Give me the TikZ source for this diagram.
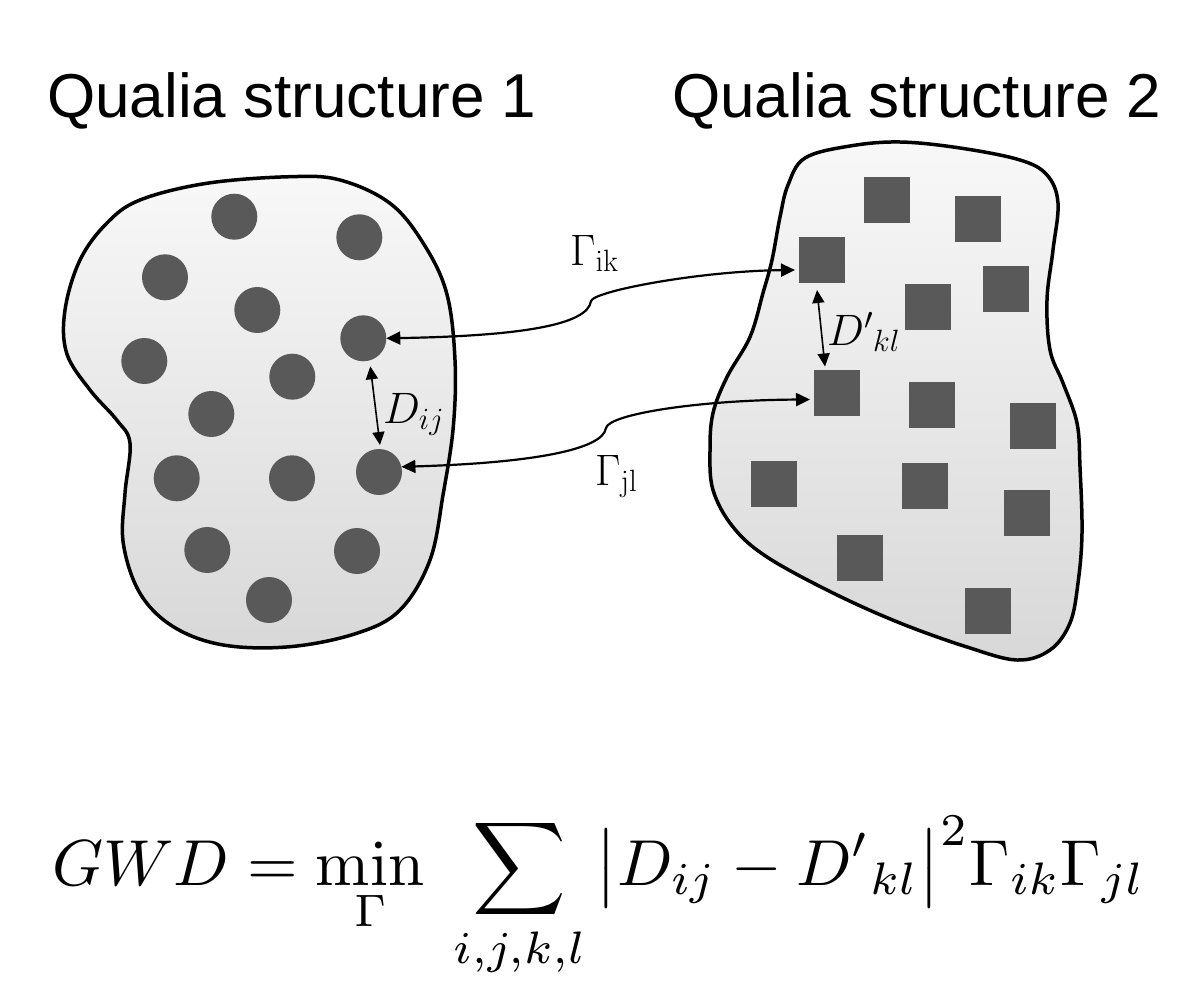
\RequirePackage{fix-cm}
\documentclass[tikz,border=0pt]{standalone}
\usepackage[no-math]{fontspec}
\usepackage{graphicx}
\newfontfamily\titlefont{Liberation Sans}
\usetikzlibrary{arrows.meta,calc}
\definecolor{dotgray}{HTML}{595959}
\definecolor{blobtop}{HTML}{F8F8F8}
\definecolor{blobbot}{HTML}{D8D8D8}
\begin{document}
\begin{tikzpicture}[x=1pt,y=-1pt,
  blob/.style={draw=black, line width=3.5pt, top color=blobtop, bottom color=blobbot},
  dot/.style={circle, fill=dotgray, minimum size=46pt, inner sep=0pt, outer sep=0pt},
  sq/.style={rectangle, fill=dotgray, minimum size=46pt, inner sep=0pt, outer sep=0pt},
  link/.style={line width=2.2pt, {Triangle[length=14pt,width=13pt]}-{Triangle[length=14pt,width=13pt]}},
  dist/.style={line width=1.6pt, {Triangle[length=13pt,width=12pt]}-{Triangle[length=13pt,width=12pt]}},
  title/.style={font=\titlefont\fontsize{62}{70}\selectfont, anchor=base west, inner sep=0pt},
  lbl/.style={font=\fontsize{44}{50}\selectfont, anchor=base west, inner sep=0pt},
]
\useasboundingbox (0,0) rectangle (1180,982);

% titles
\node[title] (t1) at (47,117) {Qualia structure 1};
\node[title] (t2) at (672,117) {Qualia structure 2};

% blobs
\path[blob] plot[smooth cycle, tension=0.6] coordinates {
 (140,200) (206.7,183.3) (290,176.7) (340,180) (390,203.3) (423.3,243.3)
 (446.7,293.3) (455,360) (453.3,426.7) (443.3,493.3) (430,560) (400,610)
 (356.7,633.3) (290,646.7) (223.3,645) (173.3,626.7) (140,593.3) (123.3,543.3)
 (125,493.3) (130,443.3) (116.7,420) (90,390) (66.7,353.3) (65,310) (80,260) (106.7,223.3)};
\path[blob] plot[smooth cycle, tension=0.6] coordinates {
 (805,158) (850,146) (900,142) (960,148) (1020,160) (1047,175) (1058,203)
 (1053,250) (1047,300) (1050,350) (1063,383) (1077,423) (1080,467) (1082,533)
 (1078,583) (1070,623) (1050,650) (1017,660) (967,647) (900,623) (833,593)
 (767,557) (733,527) (713,490) (710,450) (713,413) (727,377) (750,337)
 (763,293) (772,260) (780,217) (788,185)};

% circles
\node[dot] (c1) at (234.3,216.7) {};
\node[dot] (c2) at (359.3,237.3) {};
\node[dot] (c3) at (165,277.3) {};
\node[dot] (c4) at (257.3,310) {};
\node[dot] (c5) at (363.3,338.3) {};
\node[dot] (c6) at (144.3,361) {};
\node[dot] (c7) at (292.3,376.7) {};
\node[dot] (c8) at (211.3,414) {};
\node[dot] (c9) at (379,472) {};
\node[dot] (c10) at (176.7,478.3) {};
\node[dot] (c11) at (292,478.3) {};
\node[dot] (c12) at (207.3,550) {};
\node[dot] (c13) at (357,551) {};
\node[dot] (c14) at (269,600) {};

% squares
\node[sq] (s1) at (887,200) {};
\node[sq] (s2) at (978,219) {};
\node[sq] (s3) at (822,260) {};
\node[sq] (s4) at (1006,289) {};
\node[sq] (s5) at (928,306.5) {};
\node[sq] (s6) at (837,392.5) {};
\node[sq] (s7) at (932,405) {};
\node[sq] (s8) at (1033,426) {};
\node[sq] (s9) at (774,484) {};
\node[sq] (s10) at (925,486) {};
\node[sq] (s11) at (1027,513) {};
\node[sq] (s12) at (860,558) {};
\node[sq] (s13) at (988,610.5) {};

% correspondences
\coordinate (k1) at (591,301);
\coordinate (k2) at (606,428);
\draw[link] (c5.east) .. controls (520,336) and (588,325) .. (k1)
  .. controls (594,291) and (700,271) .. ([shift={(-4pt,-10pt)}]s3.west);
\draw[link] (c9.13) .. controls (530,463) and (603,450) .. (k2)
  .. controls (609,414) and (700,400) .. ([shift={(-4pt,-7pt)}]s6.west);

% distances
\draw[dist] ([shift={(7pt,-5pt)}]c5.south) -- ([shift={(1pt,4pt)}]c9.north);
\draw[dist] ([shift={(-5pt,-7pt)}]s3.south) -- ([shift={(-12pt,3pt)}]s6.north);

% labels
\node[lbl] (g1) at (570,265) {$\Gamma_{\mathrm{ik}}$};
\node[lbl] (g2) at (595,485) {$\Gamma_{\mathrm{jl}}$};
\node[lbl] (d1) at (383,423) {$D_{ij}$};
\node[lbl] (d2) at (827,345) {${D'}_{kl}$};

% formula
\node[anchor=base west, inner sep=0pt, font=\fontsize{10}{12}\selectfont] (gwd) at (52,885)
 {\scalebox{6.5}{$\displaystyle GWD = \min_{\Gamma}\;\sum_{i,j,k,l} \big|D_{ij} - {D'}_{kl}\big|^2 \Gamma_{ik}\Gamma_{jl}$}};
\end{tikzpicture}
\end{document}
